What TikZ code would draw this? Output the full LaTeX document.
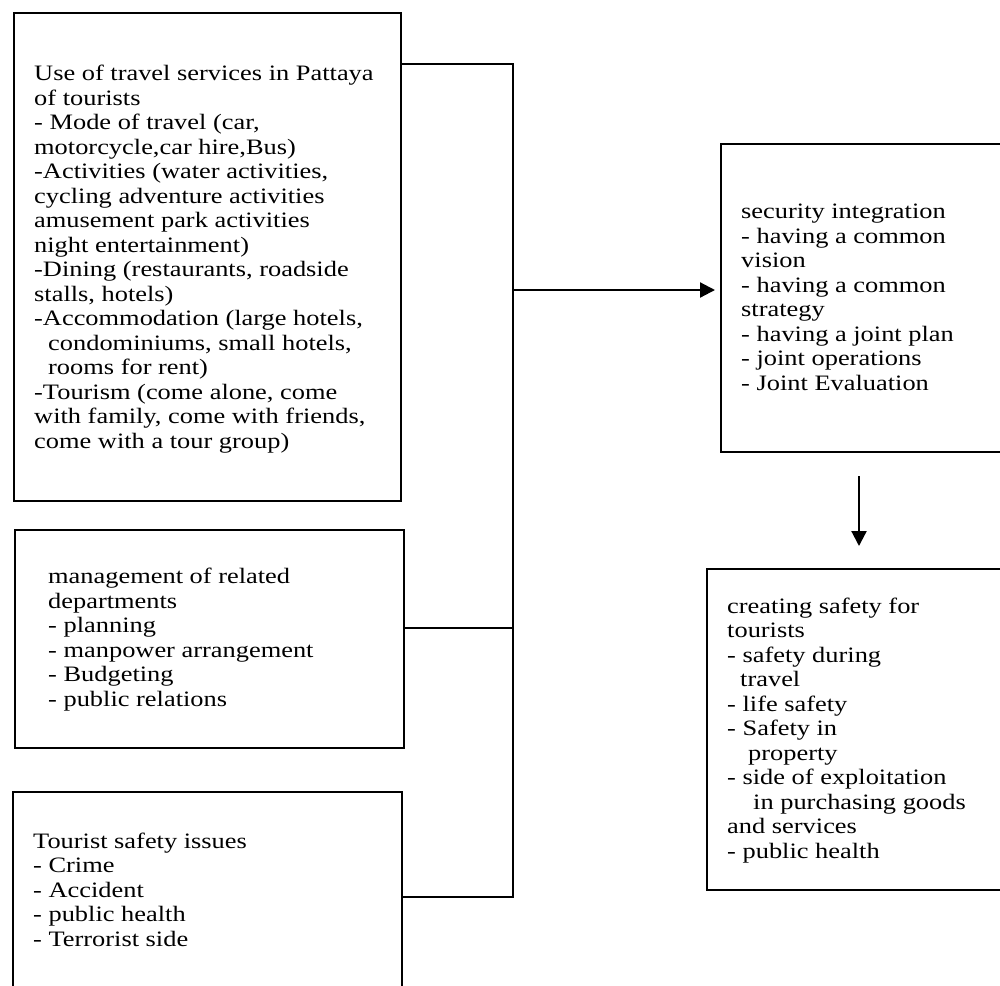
\documentclass[tikz,border=0pt]{standalone}
\usepackage{fontspec}
\setmainfont{Liberation Serif}[FakeStretch=1.2]
\usetikzlibrary{arrows.meta}
\tikzset{
  box/.style={draw=black, line width=2.2pt, rectangle, anchor=north west, inner sep=0pt},
  boxtext/.style={anchor=base west, inner sep=0pt, align=left, font=\fontsize{22}{24.5}\selectfont},
  conn/.style={draw=black, line width=2.2pt},
  arr/.style={draw=black, line width=2.2pt, -{Triangle[length=15pt,width=15pt]}}
}
\begin{document}
\begin{tikzpicture}[x=1pt,y=-1pt]
\useasboundingbox (0,0) rectangle (1000,985);
\clip (0,0) rectangle (1000,985);
% boxes
\node[box, minimum width=387pt, minimum height=488pt] (b1) at (13,12) {};
\node[box, minimum width=389pt, minimum height=218pt] (b2) at (14,529) {};
\node[box, minimum width=389pt, minimum height=196pt] (b3) at (12,791) {};
\node[box, minimum width=290pt, minimum height=308pt] (sec) at (720,143) {};
\node[box, minimum width=304pt, minimum height=321pt] (cre) at (706,568) {};
% texts (anchored at the baseline of their last line)
\node[boxtext] (t1) at (34,448) {Use of travel services in Pattaya\\
of tourists\\
- Mode of travel (car,\\
motorcycle,car hire,Bus)\\
-Activities (water activities,\\
cycling adventure activities\\
amusement park activities\\
night entertainment)\\
-Dining (restaurants, roadside\\
stalls, hotels)\\
-Accommodation (large hotels,\\
\hspace*{14pt}condominiums, small hotels,\\
\hspace*{14pt}rooms for rent)\\
-Tourism (come alone, come\\
with family, come with friends,\\
come with a tour group)};
\node[boxtext] (t2) at (48,706) {management of related\\
departments\\
- planning\\
- manpower arrangement\\
- Budgeting\\
- public relations};
\node[boxtext] (t3) at (33,946) {Tourist safety issues\\
- Crime\\
- Accident\\
- public health\\
- Terrorist side};
\node[boxtext] (t4) at (741,390) {security integration\\
- having a common\\
vision\\
- having a common\\
strategy\\
- having a joint plan\\
- joint operations\\
- Joint Evaluation};
\node[boxtext] (t5) at (727,858) {creating safety for\\
tourists\\
- safety during\\
\hspace*{13pt}travel\\
- life safety\\
- Safety in\\
\hspace*{21pt}property\\
- side of exploitation\\
\hspace*{26pt}in purchasing goods\\
and services\\
- public health};
% connectors
\coordinate (bt) at (513,64);
\coordinate (bm) at (513,628);
\coordinate (bb) at (513,897);
\coordinate (ba) at (513,290);
\coordinate (dx) at (859,0);
\draw[conn] (b1.east |- bt) -- (bt) -- (bb) -- (b3.east |- bb);
\draw[conn] (b2.east |- bm) -- (bm);
\draw[arr] (ba) -- ([xshift=-5pt]sec.west |- ba);
\draw[arr] ([yshift=-23pt]sec.south -| dx) -- ([yshift=22pt]cre.north -| dx);
\end{tikzpicture}
\end{document}
